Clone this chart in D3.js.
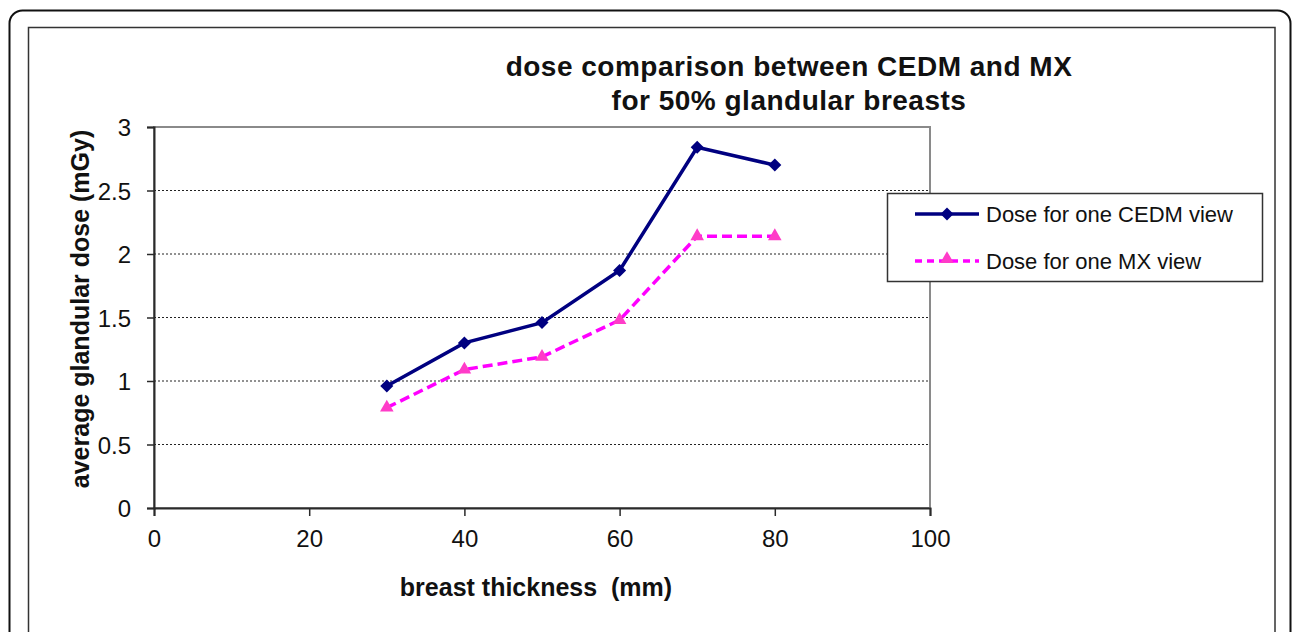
<!DOCTYPE html>
<html>
<head>
<meta charset="utf-8">
<script src="https://cdn.jsdelivr.net/npm/d3@7"></script>
<style>
  body { margin: 0; background: #fff; }
  svg { display: block; font-family: "Liberation Sans", Arial, sans-serif; }
</style>
</head>
<body>
<svg id="chart" width="1292" height="632"></svg>
<script>
var thickness = [30, 40, 50, 60, 70, 80];
var cedmDose = [0.96, 1.30, 1.46, 1.87, 2.84, 2.70];
var mxDose = [0.79, 1.09, 1.19, 1.48, 2.14, 2.14];
var xTicks = [0, 20, 40, 60, 80, 100];
var yTicks = [0, 0.5, 1, 1.5, 2, 2.5, 3];
var seriesNames = ["Dose for one CEDM view", "Dose for one MX view"];
var titleLines = ["dose comparison between CEDM and MX", "for 50% glandular breasts"];

var svg = d3.select("#chart");

// frames
svg.append("rect").attr("x", 9.5).attr("y", 10.5).attr("width", 1281).attr("height", 660)
  .attr("rx", 13).attr("fill", "none").attr("stroke", "#111").attr("stroke-width", 2);
svg.append("rect").attr("x", 28.5).attr("y", 27.5).attr("width", 1246.5).attr("height", 640)
  .attr("fill", "none").attr("stroke", "#333").attr("stroke-width", 1.5);

var x = d3.scaleLinear().domain([0, 100]).range([154, 930]);
var y = d3.scaleLinear().domain([0, 3]).range([508, 127]);

// gridlines
svg.append("g").selectAll("line").data(yTicks.filter(function(d) { return d > 0 && d < 3; }))
  .enter().append("line")
  .attr("x1", x(0)).attr("x2", x(100))
  .attr("y1", function(d) { return y(d); }).attr("y2", function(d) { return y(d); })
  .attr("stroke", "#222").attr("stroke-width", 1).attr("stroke-dasharray", "2,2");

// plot area border
svg.append("rect").attr("x", x(0)).attr("y", y(3)).attr("width", x(100) - x(0)).attr("height", y(0) - y(3))
  .attr("fill", "none").attr("stroke", "#8a8a8a").attr("stroke-width", 2);

var yAxis = d3.axisLeft(y).tickValues(yTicks).tickSize(7).tickPadding(16).tickFormat(d3.format(""));
var xAxis = d3.axisBottom(x).tickValues(xTicks).tickSize(8).tickPadding(14).tickFormat(d3.format(""));

var gy = svg.append("g").attr("transform", "translate(" + x(0) + ",0)").call(yAxis);
var gx = svg.append("g").attr("transform", "translate(0," + y(0) + ")").call(xAxis);
[gx, gy].forEach(function(g) {
  g.select(".domain").attr("stroke", "#2a2a2a").attr("stroke-width", 2);
  g.selectAll(".tick line").attr("stroke", "#2a2a2a").attr("stroke-width", 1.5);
  g.selectAll("text").attr("fill", "#111").style("font-size", "24px")
    .style("font-family", "'Liberation Sans', Arial, sans-serif");
});
gy.selectAll("text").attr("dy", "0.36em");
gx.selectAll("text").attr("dy", "0.71em");

var line = d3.line().x(function(d) { return x(d[0]); }).y(function(d) { return y(d[1]); });
var cedm = d3.zip(thickness, cedmDose);
var mx = d3.zip(thickness, mxDose);

svg.append("path").attr("d", line(mx)).attr("fill", "none")
  .attr("stroke", "#ff00ff").attr("stroke-width", 3.5).attr("stroke-dasharray", "10,5");
svg.append("path").attr("d", line(cedm)).attr("fill", "none")
  .attr("stroke", "#000080").attr("stroke-width", 3.5);

var diamond = d3.symbol().type(d3.symbolSquare).size(85);
var triangle = d3.symbol().type(d3.symbolTriangle).size(80);

svg.append("g").selectAll("path").data(cedm).enter().append("path")
  .attr("d", diamond)
  .attr("transform", function(d) { return "translate(" + x(d[0]) + "," + y(d[1]) + ") rotate(45)"; })
  .attr("fill", "#000080");
svg.append("g").selectAll("path").data(mx).enter().append("path")
  .attr("d", triangle)
  .attr("transform", function(d) { return "translate(" + x(d[0]) + "," + y(d[1]) + ")"; })
  .attr("fill", "#ff3cc8");

// title
svg.append("g").selectAll("text").data(titleLines).enter().append("text")
  .attr("x", 789).attr("y", function(d, i) { return 76 + i * 34; })
  .attr("text-anchor", "middle").attr("font-weight", "bold").attr("font-size", 28)
  .attr("letter-spacing", 0.5)
  .attr("fill", "#111").text(function(d) { return d; });

// axis titles
svg.append("text").attr("x", 536).attr("y", 596).attr("text-anchor", "middle")
  .attr("font-weight", "bold").attr("font-size", 25).attr("fill", "#111")
  .attr("xml:space", "preserve").style("white-space", "pre")
  .text("breast thickness  (mm)");
svg.append("text").attr("transform", "translate(89,309) rotate(-90)").attr("text-anchor", "middle")
  .attr("font-weight", "bold").attr("font-size", 25).attr("fill", "#111")
  .text("average glandular dose (mGy)");

// legend
var legend = svg.append("g");
legend.append("rect").attr("x", 887.5).attr("y", 193.5).attr("width", 375).attr("height", 88)
  .attr("fill", "#fff").attr("stroke", "#333").attr("stroke-width", 1.5);
var legendY = [214, 261];
legend.append("line").attr("x1", 915).attr("x2", 979).attr("y1", legendY[0]).attr("y2", legendY[0])
  .attr("stroke", "#000080").attr("stroke-width", 3.5);
legend.append("path").attr("d", diamond).attr("transform", "translate(947," + legendY[0] + ") rotate(45)")
  .attr("fill", "#000080");
legend.append("line").attr("x1", 915).attr("x2", 979).attr("y1", legendY[1]).attr("y2", legendY[1])
  .attr("stroke", "#ff00ff").attr("stroke-width", 3.5).attr("stroke-dasharray", "7,5");
legend.append("path").attr("d", triangle).attr("transform", "translate(947," + (legendY[1] - 2) + ")")
  .attr("fill", "#ff3cc8");
legend.selectAll("text.lbl").data(seriesNames).enter().append("text").attr("class", "lbl")
  .attr("x", 986).attr("y", function(d, i) { return legendY[i] + 8; })
  .attr("font-size", 22).attr("fill", "#111").text(function(d) { return d; });
</script>
</body>
</html>
